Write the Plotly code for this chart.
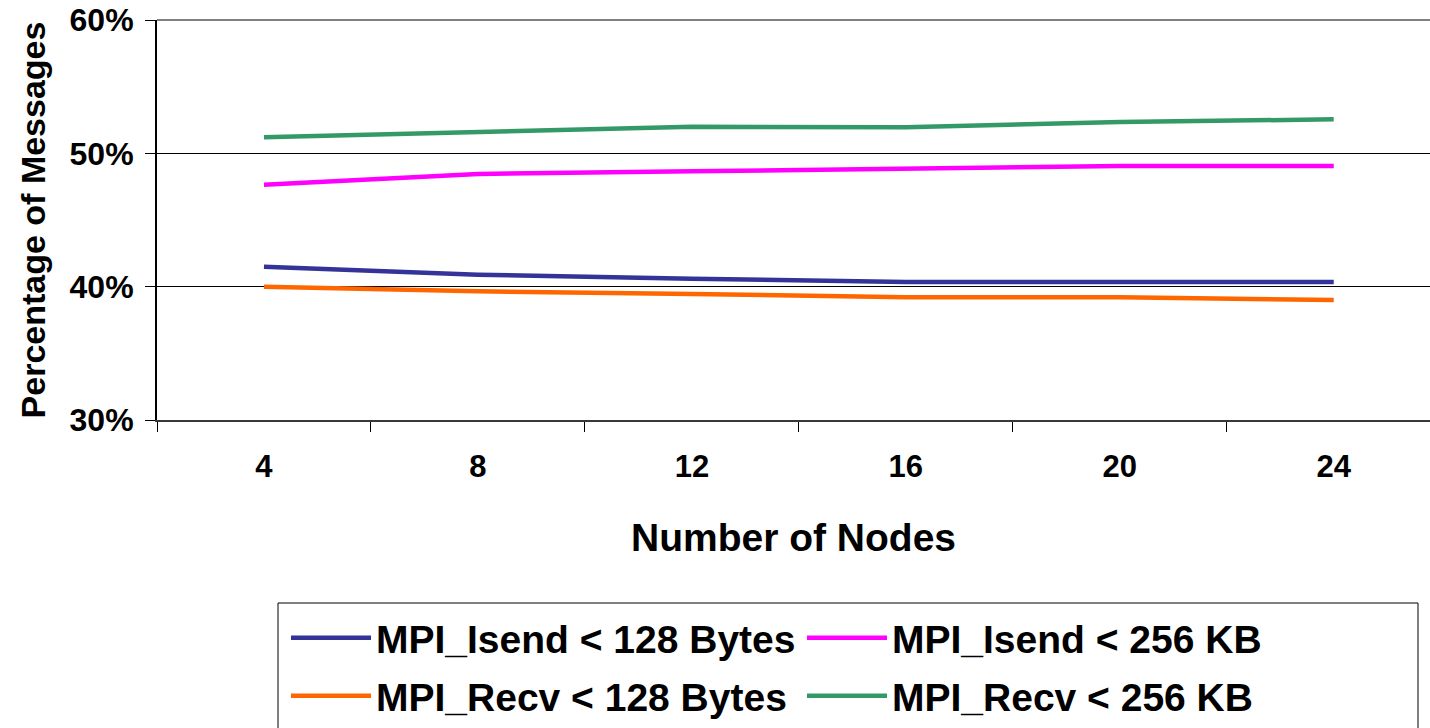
import plotly.graph_objects as go

nodes = ["4", "8", "12", "16", "20", "24"]
isend_128b = [41.5, 40.9, 40.6, 40.35, 40.35, 40.35]
isend_256kb = [47.65, 48.45, 48.65, 48.85, 49.05, 49.05]
recv_128b = [40.0, 39.65, 39.45, 39.2, 39.2, 39.0]
recv_256kb = [51.2, 51.6, 52.0, 51.95, 52.35, 52.55]

y_ticks = [30, 40, 50, 60]
y_tick_labels = ["30%", "40%", "50%", "60%"]

series = [
    ("MPI_Isend < 128 Bytes", isend_128b, "#333399", "legend"),
    ("MPI_Isend < 256 KB", isend_256kb, "#FF00FF", "legend"),
    ("MPI_Recv < 128 Bytes", recv_128b, "#FF6600", "legend2"),
    ("MPI_Recv < 256 KB", recv_256kb, "#339966", "legend2"),
]

FONT = "Liberation Sans, Arial, sans-serif"

# page body margin is removed, so the figure fills the whole view
OFF = 0
W, H = 1430, 728
L, T = 157, 20
PW, PH = 1273, 400


def px(page_x):
    return (page_x - OFF - L) / PW


def py(page_y):
    return (T + PH - (page_y - OFF)) / PH


fig = go.Figure()
for name, vals, color, leg in series:
    fig.add_trace(go.Scatter(
        x=nodes, y=vals, name=name, mode="lines",
        line=dict(color=color, width=4.5), legend=leg,
    ))

legend_common = dict(
    orientation="h", xanchor="left", yanchor="middle",
    borderwidth=0, bgcolor="rgba(0,0,0,0)",
    font=dict(family=FONT, size=39, color="black", weight="bold"),
    itemwidth=80, entrywidth=421, entrywidthmode="pixels",
)

fig.update_layout(
    width=W, height=H,
    margin=dict(l=L, r=W - L - PW, t=T, b=H - T - PH, autoexpand=False),
    paper_bgcolor="white", plot_bgcolor="white",
    font=dict(family=FONT, color="black"),
    showlegend=True,
    legend=dict(x=px(286), y=py(638), **legend_common),
    legend2=dict(x=px(286), y=py(696), **legend_common),
    shapes=[
        dict(type="line", xref="paper", yref="paper",
             x0=0, x1=1, y0=1, y1=1,
             line=dict(color="#808080", width=2), layer="above"),
        dict(type="rect", xref="paper", yref="paper",
             x0=px(278), x1=px(1418), y0=py(603), y1=py(760),
             line=dict(color="black", width=1), fillcolor="rgba(0,0,0,0)",
             layer="below"),
    ],
)

fig.update_xaxes(
    type="category", range=[-0.5, 5.45],
    showline=True, linecolor="#383838", linewidth=2,
    ticks="outside", ticklen=10, tickcolor="black", tickwidth=1,
    tickson="boundaries",
    showgrid=False,
    ticklabelstandoff=18,
    tickfont=dict(family=FONT, size=31, color="black", weight="bold"),
    title=dict(text="Number of Nodes", standoff=40,
               font=dict(family=FONT, size=39, color="black", weight="bold")),
)

fig.update_yaxes(
    range=[30, 60], tickmode="array", tickvals=y_ticks, ticktext=y_tick_labels,
    showline=True, linecolor="black", linewidth=2,
    ticks="outside", ticklen=10, tickcolor="black", tickwidth=1,
    showgrid=True, gridcolor="black", gridwidth=1,
    zeroline=False,
    ticklabelstandoff=5, ticklabeloverflow="allow",
    tickfont=dict(family=FONT, size=32, color="black", weight="bold"),
    title=dict(text="Percentage of Messages", standoff=14,
               font=dict(family=FONT, size=34, color="black", weight="bold")),
)

fig.write_html(
    "out.html",
    config={"displayModeBar": False},
    post_script="document.body.style.margin='0';document.body.style.overflow='hidden';",
)
